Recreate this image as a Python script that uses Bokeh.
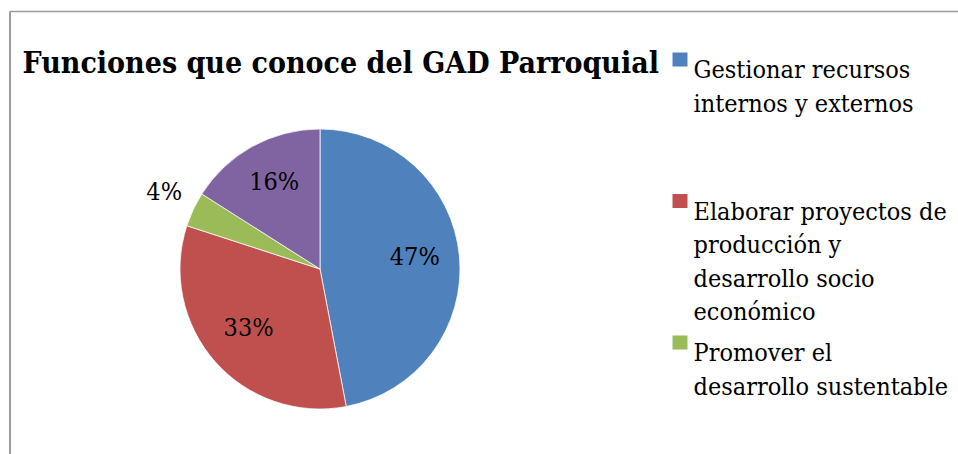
import math
from bokeh.plotting import figure
from bokeh.models import Range1d, ColumnDataSource
from bokeh.core.properties import value
from bokeh.embed import file_html
from bokeh.resources import INLINE

# ---- data ----
title = "Funciones que conoce del GAD Parroquial"
legend_labels = [
    "Gestionar recursos\ninternos y externos",
    "Elaborar proyectos de\nproducción y\ndesarrollo socio\neconómico",
    "Promover el\ndesarrollo sustentable",
]
percentages = [47, 33, 4, 16]
colors = ["#4F81BD", "#C0504D", "#9BBB59", "#8064A2"]

# ---- layout (page pixel coordinates) ----
W, H = 958, 454
FONT = "DejaVu Serif Condensed"


def Y(py):
    return H - py


p = figure(width=W, height=H, x_range=Range1d(0, W), y_range=Range1d(0, H),
           output_backend="svg", toolbar_location=None, min_border=0,
           outline_line_color=None, background_fill_color="white")
p.axis.visible = False
p.grid.visible = False

# chart border (extends beyond the visible window at right and bottom)
p.line(x=[9.5, 9.5], y=[Y(480), Y(11)], line_color="#9c9c9c", line_width=2)
p.line(x=[9.5, 990], y=[Y(11), Y(11)], line_color="#9c9c9c", line_width=1.5)

# title
p.text(x=[22], y=[Y(62)], text=[title], text_font=value(FONT), text_font_style="bold",
       text_font_size="30px", text_color="black", text_align="left",
       text_baseline="alphabetic")

# pie
cx, cy, R = 319.5, 268.5, 140
total = sum(percentages)
starts, ends, lx, ly, ltxt = [], [], [], [], []
cum = 0.0
for v in percentages:
    a0 = cum / total
    cum += v
    a1 = cum / total
    starts.append(math.pi / 2 - 2 * math.pi * a0)
    ends.append(math.pi / 2 - 2 * math.pi * a1)
    mid = (a0 + a1) / 2 * 2 * math.pi
    f = 0.68 if v >= 5 else 1.23
    lx.append(cx + math.sin(mid) * R * f)
    ly.append(Y(cy - math.cos(mid) * R * f))
    ltxt.append(f"{v}%")

src = ColumnDataSource(dict(start=starts, end=ends, color=colors))
p.wedge(x=cx, y=Y(cy), radius=R, radius_units="screen", start_angle="start",
        end_angle="end", direction="clock", fill_color="color",
        line_color="white", line_width=0.75, source=src)

p.text(x=lx, y=ly, text=ltxt, text_font=value(FONT), text_font_size="25px",
       text_color="black", text_align="center", text_baseline="middle",
       y_offset=-4)

# legend
leg_x, leg_top, leg_step, line_h = 672, 52, 141.5, 33.5
sq_x, sq_y, sq_c, tx, ty, tt = [], [], [], [], [], []
for i, lab in enumerate(legend_labels):
    top = leg_top + i * leg_step
    sq_x.append(leg_x + 7.5)
    sq_y.append(Y(top + 7))
    sq_c.append(colors[i])
    for j, line in enumerate(lab.split("\n")):
        tx.append(693)
        ty.append(Y(top + 17 + j * line_h))
        tt.append(line)

p.rect(x=sq_x, y=sq_y, width=15, height=14, width_units="screen",
       height_units="screen", fill_color=sq_c, line_color=None)
p.text(x=tx, y=ty, text=tt, text_font=value(FONT), text_font_size="25px",
       text_color="black", text_align="left", text_baseline="alphabetic")

open("out.html", "w").write(file_html(p, INLINE))
